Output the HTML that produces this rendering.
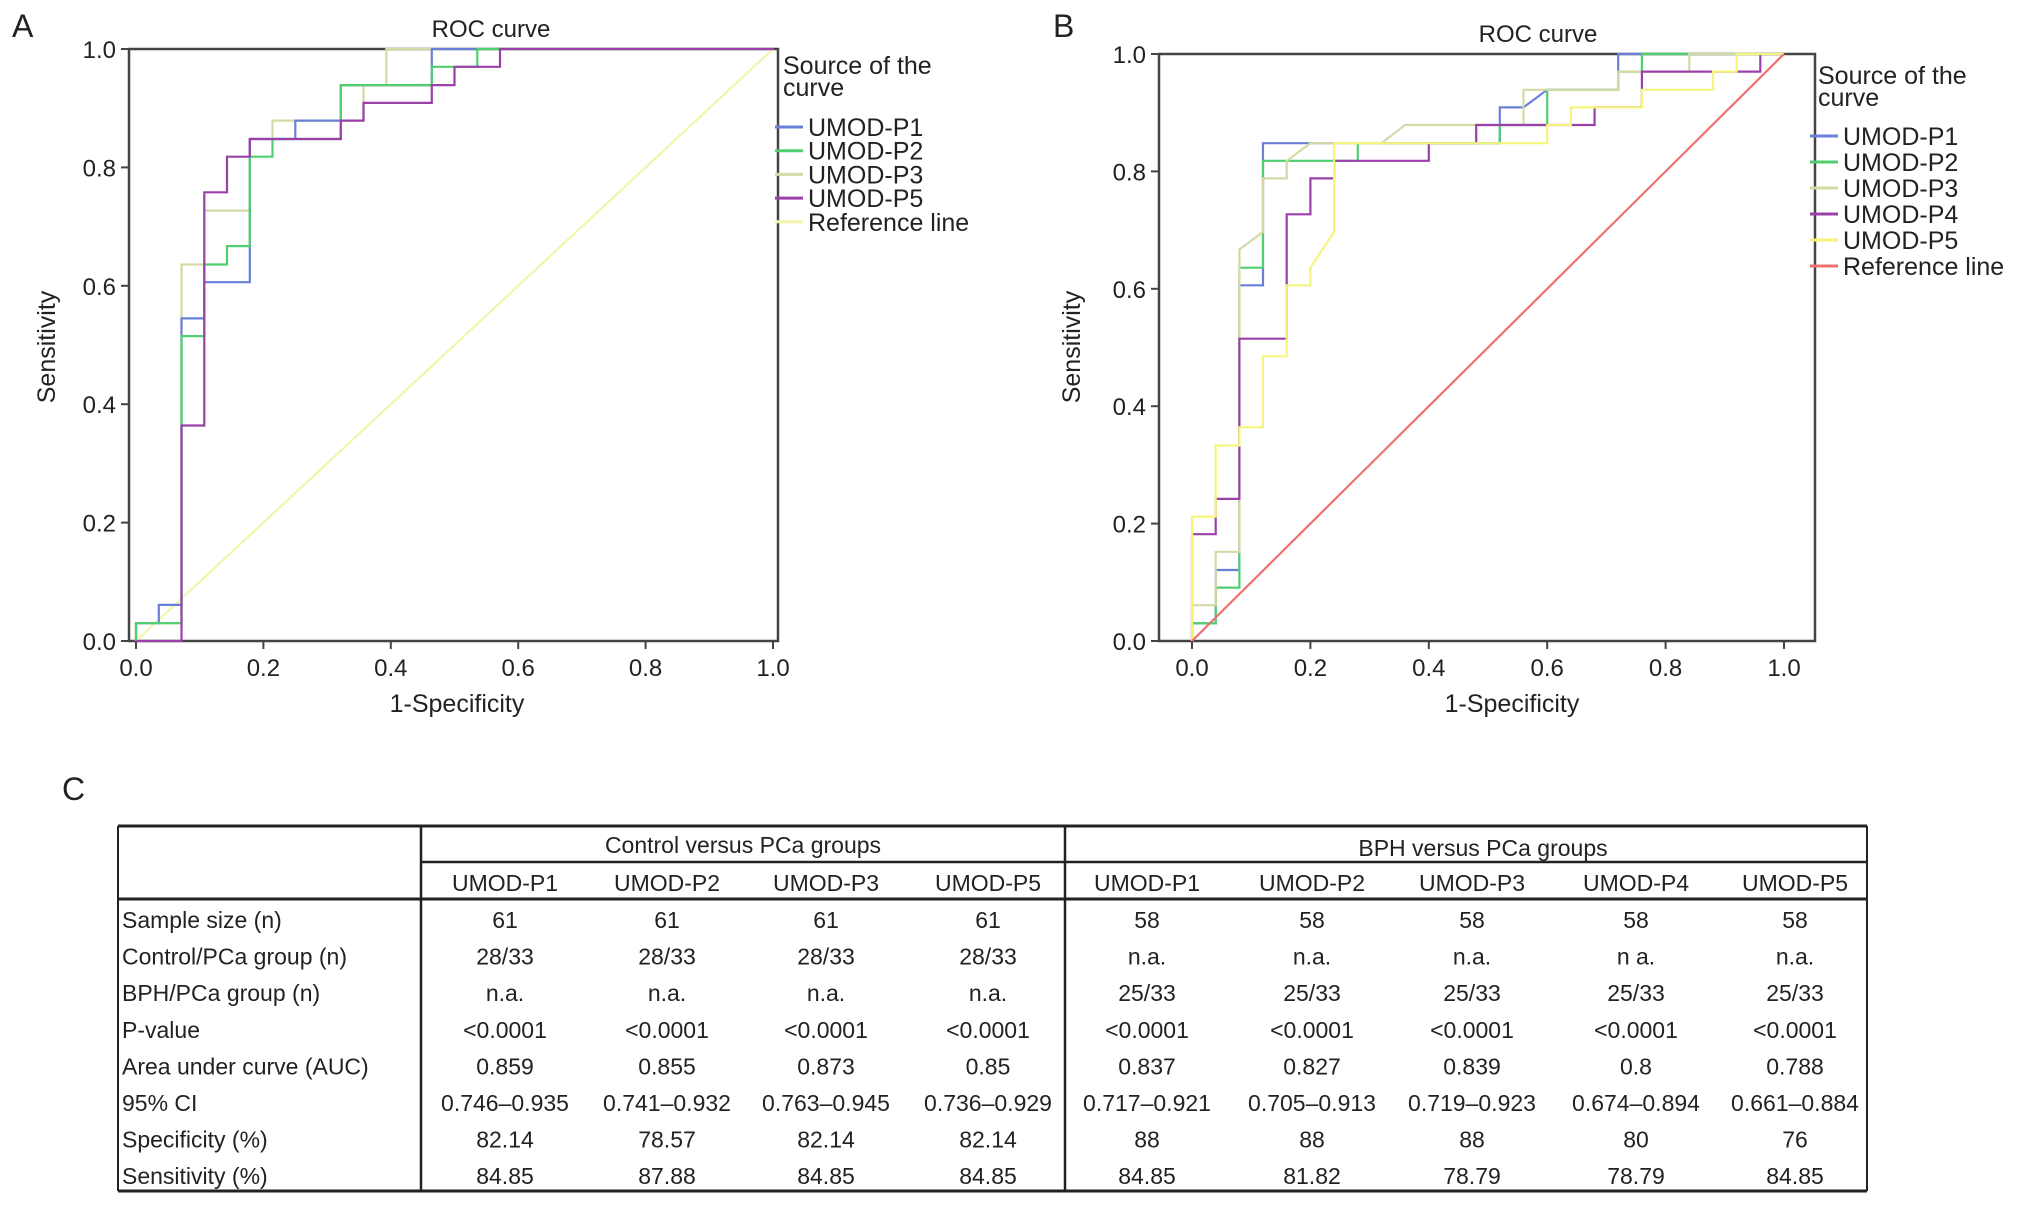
<!DOCTYPE html>
<html><head><meta charset="utf-8"><style>
body{margin:0;background:#fff}
svg text{font-family:"Liberation Sans",sans-serif;fill:#222}
</style></head><body>
<svg id="fig" width="2032" height="1207" viewBox="0 0 2032 1207" xmlns="http://www.w3.org/2000/svg">
<g id="gA"></g>
<g id="gB"></g>
<g id="gT"></g>
</svg>
<script>
const ticks=[0,0.2,0.4,0.6,0.8,1.0];
const tickLabels=["0.0","0.2","0.4","0.6","0.8","1.0"];
const a_p1_x=[0,0,1/28,1/28,2/28,2/28,3/28,3/28,5/28,5/28,7/28,7/28,9/28,9/28,13/28,13/28,1];
const a_p1_y=[0,.03,.03,.061,.061,.545,.545,.606,.606,.848,.848,.879,.879,.939,.939,1,1];
const a_p2_x=[0,0,2/28,2/28,3/28,3/28,4/28,4/28,5/28,5/28,6/28,6/28,9/28,9/28,13/28,13/28,15/28,15/28,1];
const a_p2_y=[0,.03,.03,.515,.515,.636,.636,.667,.667,.818,.818,.848,.848,.939,.939,.97,.97,1,1];
const a_p3_x=[0,0,2/28,2/28,3/28,3/28,5/28,5/28,6/28,6/28,10/28,10/28,11/28,11/28,1];
const a_p3_y=[0,.03,.03,.636,.636,.727,.727,.848,.848,.879,.879,.939,.939,1,1];
const a_p5_x=[0,2/28,2/28,3/28,3/28,4/28,4/28,5/28,5/28,9/28,9/28,10/28,10/28,13/28,13/28,14/28,14/28,16/28,16/28,1];
const a_p5_y=[0,0,.364,.364,.758,.758,.818,.818,.848,.848,.879,.879,.909,.909,.939,.939,.97,.97,1,1];
const b_p1_x=[0,0,.04,.04,.08,.08,.12,.12,.52,.52,.56,.6,.72,.72,1];
const b_p1_y=[0,.03,.03,.121,.121,.606,.606,.848,.848,.909,.909,.939,.939,1,1];
const b_p2_x=[0,0,.04,.04,.08,.08,.12,.12,.28,.28,.52,.52,.6,.6,.72,.72,.76,.76,1];
const b_p2_y=[0,.03,.03,.091,.091,.636,.636,.818,.818,.848,.848,.879,.879,.939,.939,.97,.97,1,1];
const b_p3_x=[0,0,.04,.04,.08,.08,.12,.12,.16,.16,.2,.32,.36,.56,.56,.72,.72,.84,.84,1];
const b_p3_y=[0,.061,.061,.152,.152,.667,.697,.788,.788,.818,.848,.848,.879,.879,.939,.939,.97,.97,1,1];
const b_p4_x=[0,0,.04,.04,.08,.08,.16,.16,.2,.2,.24,.24,.4,.4,.48,.48,.68,.68,.76,.76,.96,.96,1];
const b_p4_y=[0,.182,.182,.242,.242,.515,.515,.727,.727,.788,.788,.818,.818,.848,.848,.879,.879,.909,.909,.97,.97,1,1];
const b_p5_x=[0,0,.04,.04,.08,.08,.12,.12,.16,.16,.2,.2,.24,.24,.6,.6,.64,.64,.76,.76,.88,.88,.92,.92,1];
const b_p5_y=[0,.212,.212,.333,.333,.364,.364,.485,.485,.606,.606,.636,.697,.848,.848,.879,.879,.909,.909,.939,.939,.97,.97,1,1];
const ref_x=[0,1];
const ref_y=[0,1];
const NS="http://www.w3.org/2000/svg";
function mk(p,t,at,txt){const e=document.createElementNS(NS,t);for(const k in at)e.setAttribute(k,at[k]);if(txt!==undefined)e.textContent=txt;p.appendChild(e);return e;}
function chart(g,cfg){
  const sx=v=>cfg.x0+v*(cfg.x1-cfg.x0), sy=v=>cfg.y0-v*(cfg.y0-cfg.y1);
  const fr=mk(g,'rect',{x:cfg.fl,y:cfg.y1,width:cfg.fr-cfg.fl,height:cfg.y0-cfg.y1,fill:'none',stroke:'#444','stroke-width':2.5});
  
  
  ticks.forEach((t,i)=>{
    const l=mk(g,'line',{x1:sx(t),x2:sx(t),y1:cfg.y0,y2:cfg.y0+8,stroke:'#444','stroke-width':2});
    
    
    const tx=mk(g,'text',{x:sx(t),y:cfg.y0+35,'text-anchor':'middle','font-size':24},tickLabels[i]);
    
    
    const l2=mk(g,'line',{x1:cfg.fl-8,x2:cfg.fl,y1:sy(t),y2:sy(t),stroke:'#444','stroke-width':2});
    
    
    const ty=mk(g,'text',{x:cfg.fl-13,y:sy(t)+9,'text-anchor':'end','font-size':24},tickLabels[i]);
    
    
  });
  cfg.series.forEach(s=>{
    const pts=s.x.map((v,i)=>sx(v).toFixed(1)+','+sy(s.y[i]).toFixed(1)).join(' ');
    const pl=mk(g,'polyline',{points:pts,fill:'none',stroke:s.c,'stroke-width':2.2});
    
    
  });
  const t1=mk(g,'text',{x:cfg.tx,y:cfg.y1-12,'text-anchor':'middle','font-size':24},'ROC curve');
  
  
  const t2=mk(g,'text',{x:cfg.xt,y:cfg.y0+71,'text-anchor':'middle','font-size':25},'1-Specificity');
  
  
  const t3=mk(g,'text',{x:cfg.yt,y:347,'text-anchor':'middle','font-size':25,transform:'rotate(-90 '+cfg.yt+' 347)'},'Sensitivity');
  
  
  const pl=mk(g,'text',{x:cfg.px,y:37,'font-size':32},cfg.panel);
  
  
  const lh=mk(g,'text',{x:cfg.lx+8,y:cfg.ly,'font-size':25},'Source of the');
  
  
  mk(g,'text',{x:cfg.lx+8,y:cfg.ly+22,'font-size':25},'curve');
  cfg.legend.forEach((s,i)=>{
    const y=cfg.ey+i*cfg.es;
    const ln=mk(g,'line',{x1:cfg.lx,x2:cfg.lx+28,y1:y,y2:y,stroke:s.c,'stroke-width':3});
    
    
    const t=mk(g,'text',{x:cfg.lx+33,y:y+9,'font-size':25},s.label);
    
    
  });
}
const cBlue='#6a80d8',cGreen='#4fcf70',cKhaki='#d6d9a6',cPurple='#9a40a8',cYellow='#f5f57c',cRefA='#f3f6a8',cRed='#f07070';
const sA=[{x:ref_x,y:ref_y,c:cRefA,n:'reference-line',label:'Reference line'},
 {x:a_p3_x,y:a_p3_y,c:cKhaki,n:'curve-umod-p3',label:'UMOD-P3'},
 {x:a_p1_x,y:a_p1_y,c:cBlue,n:'curve-umod-p1',label:'UMOD-P1'},
 {x:a_p2_x,y:a_p2_y,c:cGreen,n:'curve-umod-p2',label:'UMOD-P2'},
 {x:a_p5_x,y:a_p5_y,c:cPurple,n:'curve-umod-p5',label:'UMOD-P5'}];
chart(document.getElementById('gA'),{x0:136,x1:773,y0:641,y1:49,fl:129,fr:778,yt:55,px:12,panel:'A',lx:775,ly:74,ey:127,es:23.7,tx:491,xt:457,
 series:sA,legend:[sA[2],sA[3],sA[1],sA[4],sA[0]]});
const sB=[{x:b_p1_x,y:b_p1_y,c:cBlue,n:'curve-umod-p1',label:'UMOD-P1'},
  {x:b_p2_x,y:b_p2_y,c:cGreen,n:'curve-umod-p2',label:'UMOD-P2'},
  {x:b_p3_x,y:b_p3_y,c:cKhaki,n:'curve-umod-p3',label:'UMOD-P3'},
  {x:b_p4_x,y:b_p4_y,c:cPurple,n:'curve-umod-p4',label:'UMOD-P4'},
  {x:b_p5_x,y:b_p5_y,c:cYellow,n:'curve-umod-p5',label:'UMOD-P5'},
  {x:ref_x,y:ref_y,c:cRed,n:'reference-line',label:'Reference line'}];
chart(document.getElementById('gB'),{x0:1192,x1:1784,y0:641,y1:54,fl:1159,fr:1815,yt:1080,px:1053,panel:'B',lx:1810,ly:84,ey:136,es:26,tx:1538,xt:1512,
  series:sB,legend:sB});
(function(){
 const T=document.getElementById('gT');
 const cl=mk(T,'text',{x:62,y:800,'font-size':32},'C');
 
 
 const L=(x1,y1,x2,y2,w)=>{const l=mk(T,'line',{x1,y1,x2,y2,stroke:'#222','stroke-width':w});};
 L(118,826,1867,826,3);L(421,862,1867,862,2.5);L(118,899,1867,899,3);L(118,1191,1867,1191,3);
 L(118,826,118,1191,2);L(1867,826,1867,1191,2);L(421,826,421,1191,2.5);L(1065,826,1065,1191,2.5);
 const fs=23;
 const h1=mk(T,'text',{x:743,y:853,'text-anchor':'middle','font-size':fs},'Control versus PCa groups');
 
 const h2=mk(T,'text',{x:1483,y:856,'text-anchor':'middle','font-size':fs},'BPH versus PCa groups');
 
 const cx=[505,667,826,988,1147,1312,1472,1636,1795];
 const cols=['UMOD-P1','UMOD-P2','UMOD-P3','UMOD-P5','UMOD-P1','UMOD-P2','UMOD-P3','UMOD-P4','UMOD-P5'];
 cols.forEach((c,i)=>{const t=mk(T,'text',{x:cx[i],y:891,'text-anchor':'middle','font-size':fs},c);});
 const rows=[['Sample size (n)','61','61','61','61','58','58','58','58','58'],
 ['Control/PCa group (n)','28/33','28/33','28/33','28/33','n.a.','n.a.','n.a.','n a.','n.a.'],
 ['BPH/PCa group (n)','n.a.','n.a.','n.a.','n.a.','25/33','25/33','25/33','25/33','25/33'],
 ['P-value','<0.0001','<0.0001','<0.0001','<0.0001','<0.0001','<0.0001','<0.0001','<0.0001','<0.0001'],
 ['Area under curve (AUC)','0.859','0.855','0.873','0.85','0.837','0.827','0.839','0.8','0.788'],
 ['95% CI','0.746\u20130.935','0.741\u20130.932','0.763\u20130.945','0.736\u20130.929','0.717\u20130.921','0.705\u20130.913','0.719\u20130.923','0.674\u20130.894','0.661\u20130.884'],
 ['Specificity (%)','82.14','78.57','82.14','82.14','88','88','88','80','76'],
 ['Sensitivity (%)','84.85','87.88','84.85','84.85','84.85','81.82','78.79','78.79','84.85']];
 rows.forEach((r,ri)=>{const y=928+ri*36.6;
  const lb=mk(T,'text',{x:122,y:y,'font-size':fs},r[0]);
  
  for(let i=1;i<r.length;i++){const t=mk(T,'text',{x:cx[i-1],y:y,'text-anchor':'middle','font-size':fs},r[i]);
   }
 });
})();
</script>
</body></html>
